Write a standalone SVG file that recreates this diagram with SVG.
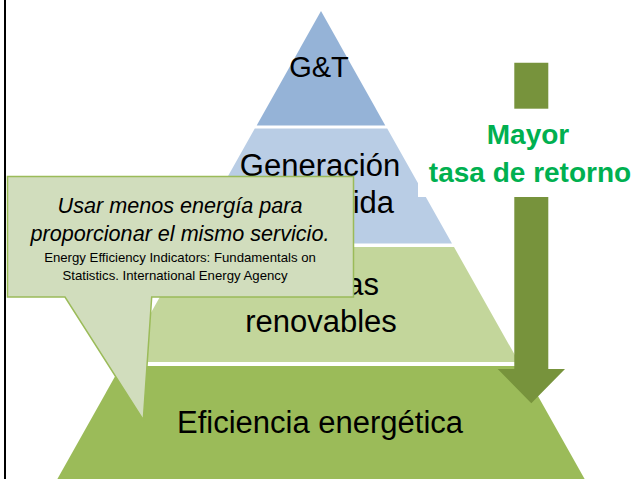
<svg xmlns="http://www.w3.org/2000/svg" width="635" height="479" viewBox="0 0 635 479">
  <style>
    .lbl { font-family: "Liberation Sans", Arial, sans-serif; font-size: 31px; fill: #000; text-anchor: middle; }
    .green { font-family: "Liberation Sans", Arial, sans-serif; font-size: 28px; font-weight: bold; fill: #00B050; text-anchor: middle; }
    .ital { font-family: "Liberation Sans", Arial, sans-serif; font-size: 21.6px; font-style: italic; fill: #000; text-anchor: middle; }
    .cite { font-family: "Liberation Sans", Arial, sans-serif; font-size: 13.2px; fill: #000; text-anchor: middle; }
  </style>
  <rect x="0" y="0" width="635" height="479" fill="#ffffff"/>
  <line x1="5" y1="0" x2="5" y2="479" stroke="#000" stroke-width="2"/>

  <g id="tier-gt">
    <polygon points="321,11 385.3,125.5 256.7,125.5" fill="#95B3D7"/>
    <text class="lbl" x="319" y="77" style="font-size:29px">G&amp;T</text>
  </g>
  <g id="tier-generacion">
    <polygon points="254.8,128.5 387.2,128.5 452,243.5 190,243.5" fill="#B9CDE5"/>
    <text class="lbl" x="320" y="176">Generación</text>
    <text class="lbl" x="394" y="213" style="text-anchor:end">ida</text>
  </g>
  <g id="tier-renovables">
    <polygon points="188,247 454,247 518.8,362 123.2,362" fill="#C3D69B"/>
    <text class="lbl" x="379" y="295" style="text-anchor:end">as</text>
    <text class="lbl" x="321" y="332">renovables</text>
  </g>
  <g id="tier-eficiencia">
    <polygon points="120.9,366 521.1,366 588,485 54,485" fill="#9BBB59"/>
    <text class="lbl" x="320" y="433">Eficiencia energética</text>
  </g>

  <g id="arrow">
    <polygon points="514.3,62.7 548.3,62.7 548.3,369 565,369 531.3,403.3 497.7,369 514.3,369" fill="#77933C"/>
  </g>
  <g id="arrow-label">
    <rect x="418" y="108.7" width="220" height="88.3" fill="#ffffff"/>
    <text class="green" x="528" y="144">Mayor</text>
    <text class="green" x="530" y="181.7">tasa de retorno</text>
  </g>

  <g id="callout">
    <path d="M7.5,176.5 H353.5 V297 H151.7 L143.3,420 L65,297 H7.5 Z" fill="#D1DDBD" stroke="#9BBB59" stroke-width="1.5"/>
    <text class="ital" x="180" y="213">Usar menos energía para</text>
    <text class="ital" x="180" y="241">proporcionar el mismo servicio.</text>
    <text class="cite" x="180" y="262">Energy Efficiency Indicators: Fundamentals on</text>
    <text class="cite" x="175" y="280">Statistics. International Energy Agency</text>
  </g>
</svg>
